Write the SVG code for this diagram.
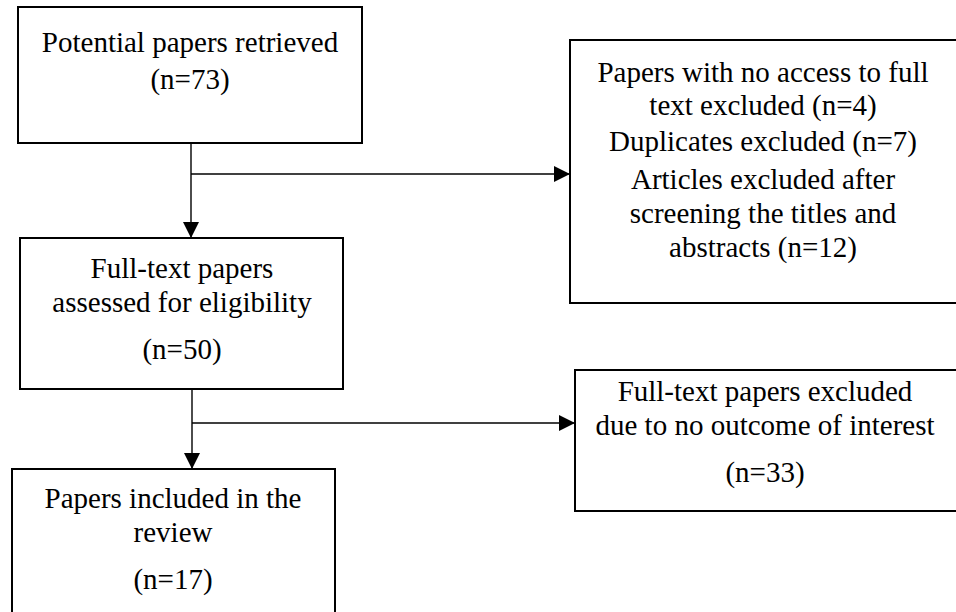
<svg xmlns="http://www.w3.org/2000/svg" width="956" height="612" viewBox="0 0 956 612">
<style>
.box{fill:#fff;stroke:#000;stroke-width:2}
.t{font-family:"Liberation Serif","Times New Roman",serif;font-size:29px;fill:#000;text-anchor:middle}
.c{fill:none;stroke:#000;stroke-width:1.4}
</style>
<defs>
<marker id="ah" markerUnits="userSpaceOnUse" markerWidth="16" markerHeight="16" viewBox="0 0 15 15" refX="15" refY="7.5" orient="auto">
<path d="M0,0 L15,7.5 L0,15 Z" fill="#000"/>
</marker>
</defs>
<rect width="956" height="612" fill="#fff"/>
<g id="connectors">
<path class="c" d="M191,143 V238" marker-end="url(#ah)"/>
<path class="c" d="M191,174 H570" marker-end="url(#ah)"/>
<path class="c" d="M192,389 V469" marker-end="url(#ah)"/>
<path class="c" d="M192,423 H575" marker-end="url(#ah)"/>
</g>
<g id="n1">
<rect class="box" x="18" y="7" width="344" height="136"/>
<text class="t" x="190" y="52">Potential papers retrieved</text>
<text class="t" x="190" y="89">(n=73)</text>
</g>
<g id="n2">
<rect class="box" x="570" y="40" width="387" height="263"/>
<text class="t" x="763" y="82">Papers with no access to full</text>
<text class="t" x="763" y="115">text excluded (n=4)</text>
<text class="t" x="763" y="151">Duplicates excluded (n=7)</text>
<text class="t" x="763" y="189">Articles excluded after</text>
<text class="t" x="763" y="223">screening the titles and</text>
<text class="t" x="763" y="257">abstracts (n=12)</text>
</g>
<g id="n3">
<rect class="box" x="20" y="238" width="323" height="151"/>
<text class="t" x="182" y="278">Full-text papers</text>
<text class="t" x="182" y="312">assessed for eligibility</text>
<text class="t" x="182" y="359">(n=50)</text>
</g>
<g id="n4">
<rect class="box" x="575" y="370" width="382" height="141"/>
<text class="t" x="765" y="401">Full-text papers excluded</text>
<text class="t" x="765" y="435">due to no outcome of interest</text>
<text class="t" x="765" y="482">(n=33)</text>
</g>
<g id="n5">
<rect class="box" x="12" y="469" width="323" height="160"/>
<text class="t" x="173" y="508">Papers included in the</text>
<text class="t" x="173" y="542">review</text>
<text class="t" x="173" y="589">(n=17)</text>
</g>
</svg>
